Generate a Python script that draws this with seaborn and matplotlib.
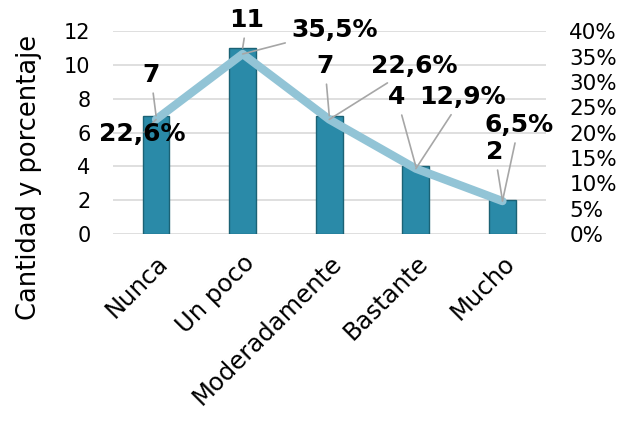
import matplotlib
matplotlib.use('Agg')
import matplotlib.pyplot as plt
import seaborn as sns
import pandas as pd

categorias = ['Nunca', 'Un poco', 'Moderadamente', 'Bastante', 'Mucho']
cantidad = [7, 11, 7, 4, 2]
porcentaje = [22.6, 35.5, 22.6, 12.9, 6.5]
pct_labels = ['22,6%', '35,5%', '22,6%', '12,9%', '6,5%']
right_ticks = [0, 5, 10, 15, 20, 25, 30, 35, 40]

df = pd.DataFrame({'cat': categorias, 'n': cantidad, 'pct': porcentaje})

# label positions (layout only)
count_text_pos = [(-0.06, 9.4), (1.05, 12.65), (1.95, 9.93), (2.78, 8.1), (3.91, 4.85)]
pct_text_pos = [(-0.16, 19.7), (2.06, 40.2), (2.98, 33.1), (3.54, 27.0), (4.19, 21.5)]

sns.set_style('white')
plt.rcParams['font.family'] = ['DejaVu Sans']
plt.rcParams['text.color'] = 'black'

fig = plt.figure(figsize=(6.23, 4.21), dpi=100)
ax = fig.add_axes([0.181, 0.444, 0.695, 0.482])

sns.barplot(data=df, x='cat', y='n', ax=ax, color='#2a8aa8', width=0.31,
            edgecolor='#1b6275', linewidth=1.0, saturation=1)
ax.set_ylim(0, 12)
ax.set_yticks(range(0, 13, 2))
ax.set_xlim(-0.5, 4.5)
ax.grid(axis='y', color='#d9d9d9', lw=1.2)
ax.set_axisbelow(True)
for s in ax.spines.values():
    s.set_visible(False)
ax.set_xlabel('')
ax.set_ylabel('Cantidad y porcentaje', fontsize=18.5, color='black')
ax.yaxis.set_label_coords(-0.164, 0.278)

ax2 = ax.twinx()
sns.lineplot(data=df, x='cat', y='pct', ax=ax2, color='#92c4d6', lw=6,
             solid_capstyle='round', solid_joinstyle='round')
ax2.set_ylim(0, 40)
ax2.set_yticks(right_ticks)
ax2.set_yticklabels([f'{t}%' for t in right_ticks])
ax2.set_ylabel('')
for s in ax2.spines.values():
    s.set_visible(False)

ax.tick_params(axis='y', length=0, labelsize=15, pad=16, colors='black')
ax.tick_params(axis='x', length=0, labelsize=17.5, pad=12, colors='black')
plt.setp(ax.get_xticklabels(), rotation=45, ha='right', rotation_mode='anchor')
ax2.tick_params(axis='y', length=0, labelsize=15.5, pad=17, colors='black')

lead = dict(arrowstyle='-', color='#a6a6a6', lw=1.2, shrinkA=2, shrinkB=0)
for i, v in enumerate(cantidad):
    ax2.annotate(str(v), xy=(i, v), xycoords=ax.transData,
                 xytext=count_text_pos[i], textcoords=ax.transData,
                 ha='center', va='center', fontsize=18, fontweight='bold',
                 color='black', arrowprops=lead, annotation_clip=False)
for i, p in enumerate(porcentaje):
    ax2.annotate(pct_labels[i], xy=(i, p), xytext=pct_text_pos[i],
                 ha='center', va='center', fontsize=18, fontweight='bold',
                 color='black', arrowprops=lead, annotation_clip=False)

fig.savefig('out.png', dpi=100)
